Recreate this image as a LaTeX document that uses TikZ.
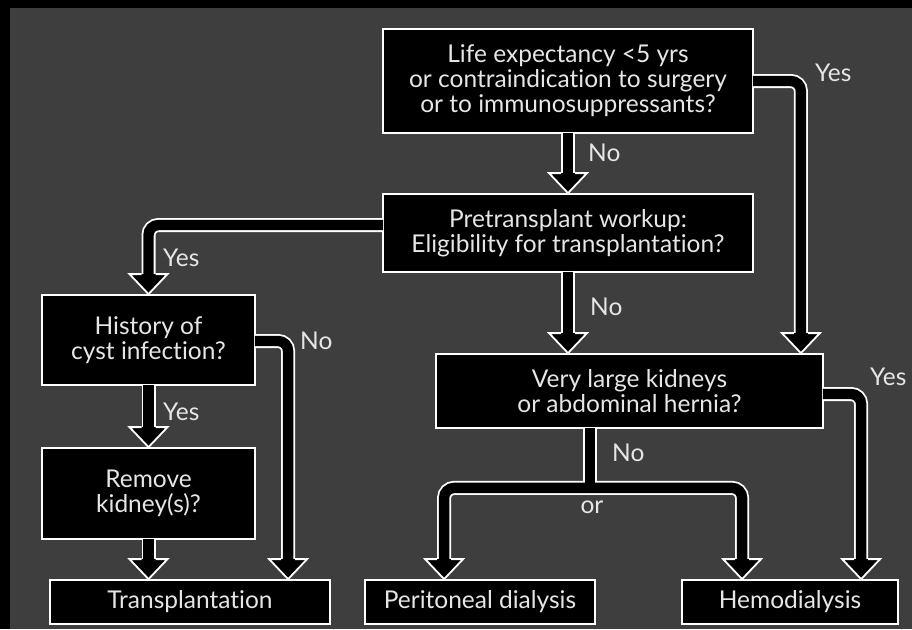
\documentclass[tikz,border=0pt]{standalone}
\usepackage{fontspec}
\setmainfont{Lato}[Ligatures=NoCommon]
\usetikzlibrary{calc}
\definecolor{bg}{HTML}{3E3E3E}
\definecolor{fg}{HTML}{E6E6E6}
\newcommand\headdown[1]{%
  \fill[black] ($(#1)+(-19,-20)$) -- (#1) -- ($(#1)+(19,-20)$) -- cycle;
  \draw[white, line width=1.8pt, line join=miter]
    ($(#1)+(-7,-20)$) -- ($(#1)+(-19,-20)$) -- (#1) -- ($(#1)+(19,-20)$) -- ($(#1)+(7,-20)$);
}
\begin{document}
\begin{tikzpicture}[x=1pt,y=-1pt,
  box/.style={draw=white, line width=1.8pt, fill=black, text=fg, align=center,
    inner sep=0pt, font=\fontsize{24.5}{25}\selectfont},
  lab/.style={text=fg, inner sep=0pt, anchor=west, font=\fontsize{24.5}{25}\selectfont},
  shw/.style={draw=white, line width=14pt, rounded corners=10pt},
  shb/.style={draw=black, line width=10.4pt, rounded corners=10pt}]
\fill[bg] (0,0) rectangle (912,629);
\fill[black] (0,0) rectangle (912,8);
\fill[black] (0,0) rectangle (10,629);
\useasboundingbox (0,0) rectangle (912,629);

\node[box, minimum width=370pt, minimum height=104pt] (b1) at (568,81)
  {Life expectancy <5 yrs\\or contraindication to surgery\\or to immunosuppressants?};
\node[box, minimum width=370pt, minimum height=78pt] (b2) at (568,233)
  {Pretransplant workup:\\Eligibility for transplantation?};
\node[box, minimum width=387pt, minimum height=74pt] (b3) at (629.5,391)
  {Very large kidneys\\or abdominal hernia?};
\node[box, minimum width=213pt, minimum height=90pt] (hist) at (148.5,340)
  {History of\\cyst infection?};
\node[box, minimum width=213pt, minimum height=91pt] (rem) at (148.5,493.5)
  {Remove\\kidney(s)?};
\node[box, minimum width=280pt, minimum height=44pt] (trans) at (190,602)
  {Transplantation};
\node[box, minimum width=230pt, minimum height=44pt] (perit) at (480,602)
  {Peritoneal dialysis};
\node[box, minimum width=216pt, minimum height=44pt] (hemo) at (790,602)
  {Hemodialysis};

\coordinate (t1) at (b2.north);
\coordinate (t2) at ($(b3.north east)+(-23,0)$);
\coordinate (t3) at (b3.north -| b2.south);
\coordinate (t4) at (hist.north);
\coordinate (t5) at (rem.north);
\coordinate (t6) at ($(trans.north west)+(239,0)$);
\coordinate (t7) at (rem.south |- trans.north);
\coordinate (j) at ($(b3.south west)+(155,0)$);
\coordinate (jb) at ($(j)+(0,59)$);
\coordinate (tl) at ($(perit.north west)+(80,0)$);
\coordinate (tr) at ($(hemo.north west)+(61,0)$);
\coordinate (t9) at ($(hemo.north west)+(180,0)$);

\foreach \s in {shw,shb}{
  \draw[\s] ($(b1.south)+(0,-1)$) -- ($(t1)+(0,-19)$);
  \draw[\s] ($(b1.east)+(-1,0)$) -| ($(t2)+(0,-19)$);
  \draw[\s] ($(b2.south)+(0,-1)$) -- ($(t3)+(0,-19)$);
  \draw[\s] ($(b2.west)+(1,-8)$) -| ($(t4)+(0,-19)$);
  \draw[\s] ($(hist.south)+(0,-1)$) -- ($(t5)+(0,-19)$);
  \draw[\s] ($(hist.east)+(-1,1)$) -| ($(t6)+(0,-19)$);
  \draw[\s] ($(rem.south)+(0,-1)$) -- ($(t7)+(0,-19)$);
  \draw[\s] ($(j)+(0,-1)$) -- (jb);
  \draw[\s] ($(tl)+(0,-19)$) |- (jb) -| ($(tr)+(0,-19)$);
  \draw[\s] ($(b3.east)+(-1,3)$) -| ($(t9)+(0,-19)$);
}
\foreach \t in {t1,t2,t3,t4,t5,t6,t7,tl,tr,t9}{\headdown{\t}}

\node[lab] (l1) at (588,153) {No};
\node[lab] (l2) at (815,73) {Yes};
\node[lab] (l3) at (590,307) {No};
\node[lab] (l4) at (163,258) {Yes};
\node[lab] (l5) at (163,412) {Yes};
\node[lab] (l6) at (300,341) {No};
\node[lab] (l7) at (870,377) {Yes};
\node[lab] (l8) at (612,453) {No};
\node[lab, anchor=center] (l9) at (592,507) {or};
\end{tikzpicture}
\end{document}
